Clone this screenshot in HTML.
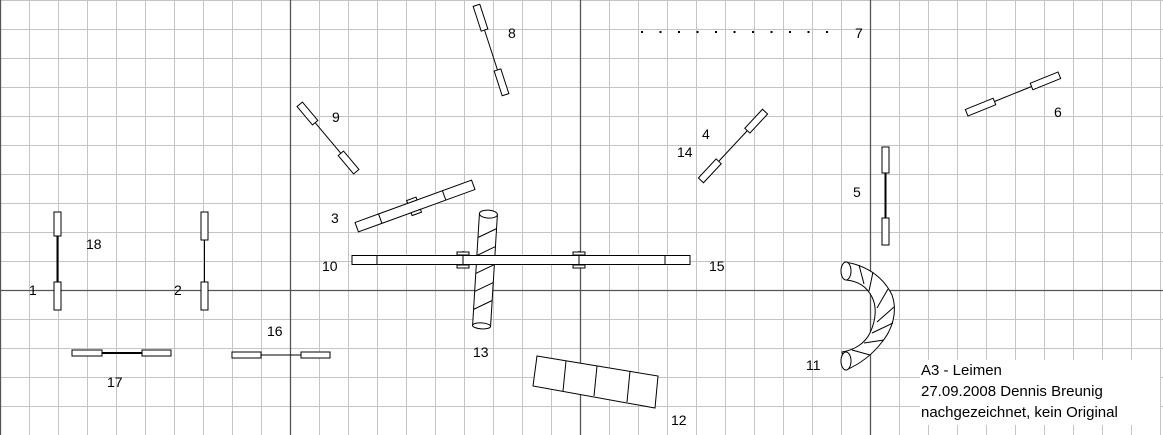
<!DOCTYPE html>
<html><head><meta charset="utf-8"><style>
body{margin:0;background:#fff}
svg{display:block;font-family:"Liberation Sans",sans-serif;font-size:14px}
</style></head><body>
<svg width="1163" height="435" viewBox="0 0 1163 435" xmlns="http://www.w3.org/2000/svg">
<defs>
<pattern id="g" width="29" height="29" patternUnits="userSpaceOnUse" x="0" y="0">
<path d="M0.5 0V29M0 0.5H29" stroke="#c4c4c4" stroke-width="1" fill="none"/>
</pattern>
</defs>
<rect width="1163" height="435" fill="url(#g)"/>
<g stroke="#555" stroke-width="1.3">
<line x1="0.5" y1="0" x2="0.5" y2="435"/><line x1="290.5" y1="0" x2="290.5" y2="435"/>
<line x1="580.5" y1="0" x2="580.5" y2="435"/><line x1="870.5" y1="0" x2="870.5" y2="435"/>
<line x1="0" y1="290.5" x2="1163" y2="290.5"/>
</g>
<g fill="#fff" stroke="#000" stroke-width="1">
<rect x="54" y="212" width="7" height="24"/><rect x="54" y="282" width="7" height="28"/><line x1="57.5" y1="236" x2="57.5" y2="282" stroke-width="2"/>
<rect x="201" y="212" width="7" height="28"/><rect x="201" y="282" width="7" height="28"/><line x1="204.5" y1="240" x2="204.5" y2="282"/>
<rect x="882" y="147" width="7" height="26"/><rect x="882" y="218" width="7" height="27"/><line x1="885.5" y1="173" x2="885.5" y2="218" stroke-width="2"/>
<rect x="72" y="350" width="30" height="6"/><rect x="142" y="350" width="29" height="6"/><line x1="102" y1="353" x2="142" y2="353" stroke-width="2"/>
<rect x="232" y="352" width="29" height="6"/><rect x="301" y="352" width="29" height="6"/><line x1="261" y1="355" x2="301" y2="355"/>
<g transform="translate(491,50) rotate(-18)"><rect x="-3.5" y="-47" width="7" height="26"/><rect x="-3.5" y="21" width="7" height="26"/><line x1="0" y1="-21" x2="0" y2="21"/></g>
<g transform="translate(328,138) rotate(-40)"><rect x="-3.5" y="-44" width="7" height="24"/><rect x="-3.5" y="20" width="7" height="24"/><line x1="0" y1="-20" x2="0" y2="20"/></g>
<g transform="translate(733,146) rotate(43)"><rect x="-3.5" y="-47" width="7" height="26"/><rect x="-3.5" y="21" width="7" height="26"/><line x1="0" y1="-21" x2="0" y2="21"/></g>
<g transform="translate(1013,94) rotate(68)"><rect x="-3.5" y="-50" width="7" height="30"/><rect x="-3.5" y="20" width="7" height="30"/><line x1="0" y1="-20" x2="0" y2="20"/></g>
<g transform="translate(415,206) rotate(-20)"><rect x="-62" y="-5" width="124" height="10"/><line x1="-37" y1="-5" x2="-37" y2="5"/><line x1="31" y1="-5" x2="31" y2="5"/><rect x="-6" y="-8" width="10" height="3"/><rect x="-6" y="5" width="10" height="3"/></g>
<!-- 13 tunnel (behind plank) -->
<g transform="translate(485,270) rotate(3.5)">
<rect x="-9" y="-56" width="18" height="112"/>
<ellipse cx="0" cy="-56" rx="9" ry="4"/><ellipse cx="0" cy="56" rx="9" ry="3" />
<g fill="none"><line x1="-9" y1="-32" x2="9" y2="-42"/><line x1="-9" y1="-14" x2="9" y2="-24"/><line x1="-9" y1="4" x2="9" y2="-6"/><line x1="-9" y1="22" x2="9" y2="12"/><line x1="-9" y1="40" x2="9" y2="30"/></g>
</g>
<rect x="352" y="255.5" width="338" height="9"/>
<line x1="377" y1="255.5" x2="377" y2="264.5"/><line x1="665" y1="255.5" x2="665" y2="264.5"/>
<line x1="463" y1="251" x2="463" y2="268"/><line x1="579" y1="251" x2="579" y2="268"/>
<rect x="457" y="252" width="12" height="3"/><rect x="457" y="265" width="12" height="3"/>
<rect x="573" y="252" width="12" height="3"/><rect x="573" y="265" width="12" height="3"/>
<polygon points="537,356 658,376 655,408 533,386"/>
<line x1="566" y1="361" x2="563" y2="391"/><line x1="597" y1="366" x2="594" y2="396"/><line x1="630" y1="371" x2="627" y2="402"/>
<!-- 11 curved tunnel -->
<path d="M845,262 C870,266 885,280 892,295 C898,312 892,330 882,342 C872,355 860,364 846,370 L842,352 C855,350 865,343 870,333 C876,320 877,307 872,297 C867,287 858,281 846,280 Z"/>
<ellipse cx="846" cy="271" rx="5" ry="9"/><ellipse cx="846" cy="361" rx="5" ry="9"/>
<g fill="none"><line x1="859" y1="265" x2="864" y2="284"/><line x1="873" y1="272" x2="869" y2="291"/><line x1="888" y1="289" x2="877" y2="308"/><line x1="894" y1="307" x2="877" y2="322"/><line x1="893" y1="323" x2="872" y2="333"/><line x1="884" y1="340" x2="864" y2="343"/><line x1="870" y1="355" x2="852" y2="350"/></g>
</g>
<line x1="641" y1="32" x2="840" y2="32" stroke="#000" stroke-width="2" stroke-dasharray="2,16.5"/>
<rect x="920" y="360" width="240" height="65" fill="#fff"/>
<g fill="#000">
<text x="508" y="38">8</text><text x="855" y="38">7</text><text x="1054" y="117">6</text>
<text x="332" y="122">9</text><text x="702" y="139">4</text><text x="677" y="157">14</text>
<text x="853" y="197">5</text><text x="331" y="223">3</text><text x="86" y="249">18</text>
<text x="322" y="271">10</text><text x="709" y="271">15</text>
<text x="29" y="295">1</text><text x="174" y="295">2</text>
<text x="267" y="336">16</text><text x="473" y="357">13</text><text x="806" y="370">11</text>
<text x="107" y="387">17</text><text x="671" y="425">12</text>
<text x="921" y="375" font-size="15">A3 - Leimen</text>
<text x="921" y="396" font-size="15">27.09.2008 Dennis Breunig</text>
<text x="921" y="417" font-size="15">nachgezeichnet, kein Original</text>
</g>
</svg>
</body></html>
